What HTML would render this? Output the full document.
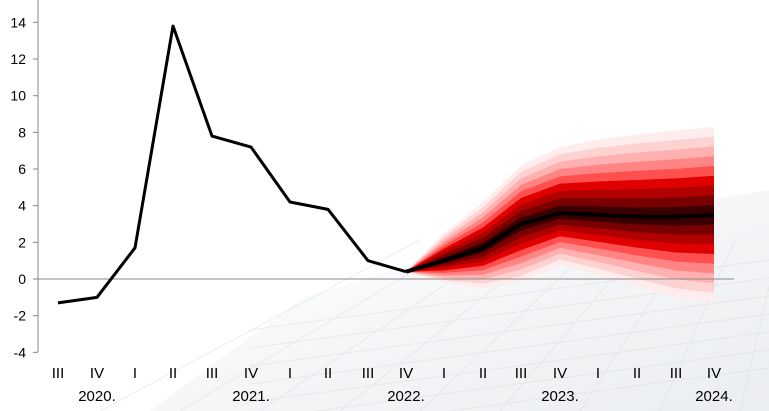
<!DOCTYPE html>
<html><head><meta charset="utf-8"><style>
html,body{margin:0;padding:0;background:#fff;overflow:hidden;width:769px;height:411px;}
svg{display:block;font-family:"Liberation Sans",sans-serif;}
</style></head><body>
<svg id="s" width="769" height="411" viewBox="0 0 769 411" xmlns="http://www.w3.org/2000/svg">
<defs>
<linearGradient id="bg" x1="0" y1="0" x2="1" y2="1">
<stop offset="0" stop-color="#fff" stop-opacity="0"/>
<stop offset="0.5" stop-color="#f0f2f5"/>
<stop offset="1" stop-color="#e2e6ea"/>
</linearGradient>
</defs>
<polygon points="150,411 300,300 480,240 769,190 769,411" fill="url(#bg)" opacity="0.7"/>
<g stroke="#dde0e4" stroke-width="1" opacity="0.6" id="grid"></g>
<g id="fan"></g>
<line x1="38" y1="279" x2="734" y2="279" stroke="#888" stroke-width="1"/>
<line x1="38" y1="0" x2="38" y2="352" stroke="#888" stroke-width="1"/>
<g id="ticks" font-size="14" fill="#000"></g>
<polyline id="hist" fill="none" stroke="#000" stroke-width="3" stroke-linejoin="round"/>
<polyline id="cent" fill="none" stroke="#000" stroke-width="4" stroke-linejoin="round"/>
<g font-size="15" fill="#000" text-anchor="middle">
<text x="58" y="378">III</text><text x="97" y="378">IV</text><text x="135" y="378">I</text><text x="173" y="378">II</text>
<text x="212" y="378">III</text><text x="251" y="378">IV</text><text x="290" y="378">I</text><text x="328" y="378">II</text>
<text x="368" y="378">III</text><text x="406" y="378">IV</text><text x="444" y="378">I</text><text x="483" y="378">II</text>
<text x="521" y="378">III</text><text x="560" y="378">IV</text><text x="598" y="378">I</text><text x="637" y="378">II</text>
<text x="676" y="378">III</text><text x="714" y="378">IV</text>
<text x="97" y="401">2020.</text><text x="251" y="401">2021.</text><text x="406" y="401">2022.</text>
<text x="560" y="401">2023.</text><text x="714" y="401">2024.</text>
</g>
</svg>
<script>
var NS="http://www.w3.org/2000/svg";
function Y(v){return 279-18.33*v;}
var tk=document.getElementById("ticks");
for(var v=-4;v<=14;v+=2){var y=Y(v);
var l=document.createElementNS(NS,"line");l.setAttribute("x1",33);l.setAttribute("x2",38);l.setAttribute("y1",y);l.setAttribute("y2",y);l.setAttribute("stroke","#888");tk.appendChild(l);
var t=document.createElementNS(NS,"text");t.setAttribute("x",26);t.setAttribute("y",y+5);t.setAttribute("text-anchor","end");t.textContent=v;tk.appendChild(t);}
var g=document.getElementById("grid");
for(var i=0;i<12;i++){var l=document.createElementNS(NS,"line");l.setAttribute("x1",100+i*80);l.setAttribute("y1",411);l.setAttribute("x2",420+i*45);l.setAttribute("y2",240);g.appendChild(l);}
for(var i=0;i<7;i++){var y=300+i*18;var l=document.createElementNS(NS,"line");l.setAttribute("x1",250);l.setAttribute("y1",y+30);l.setAttribute("x2",769);l.setAttribute("y2",y-40);g.appendChild(l);}
var hx=[58,97,135,173,212,251,290,328,368,406],hv=[-1.3,-1.0,1.7,13.8,7.8,7.2,4.2,3.8,1.0,0.4];
document.getElementById("hist").setAttribute("points",hx.map(function(x,i){return x+","+Y(hv[i]);}).join(" "));
var fx=[406,444,483,521,560,598,637,676,714],
c=[0.4,1.0,1.7,3.0,3.6,3.5,3.4,3.4,3.5],
u=[0.4,2.5,4.2,6.2,7.2,7.6,7.9,8.1,8.3],
d=[0.4,-0.2,-0.5,-0.2,0.75,0.2,-0.4,-1.0,-1.3];
var cols=["#ffecec","#ffd2d2","#ffb0b0","#ff8585","#ff4f4f","#e00000","#b00000","#780000","#3a0000"];
var fan=document.getElementById("fan"),N=9;
for(var k=N;k>=1;k--){var f=k/N;var pts=[];
for(var i=0;i<fx.length;i++)pts.push(fx[i]+","+Y(c[i]+(u[i]-c[i])*f));
for(var i=fx.length-1;i>=0;i--)pts.push(fx[i]+","+Y(c[i]+(d[i]-c[i])*f));
var p=document.createElementNS(NS,"polygon");p.setAttribute("points",pts.join(" "));p.setAttribute("fill",cols[N-k]);fan.appendChild(p);}
document.getElementById("cent").setAttribute("points",fx.map(function(x,i){return x+","+Y(c[i]);}).join(" "));
</script>
</body></html>
